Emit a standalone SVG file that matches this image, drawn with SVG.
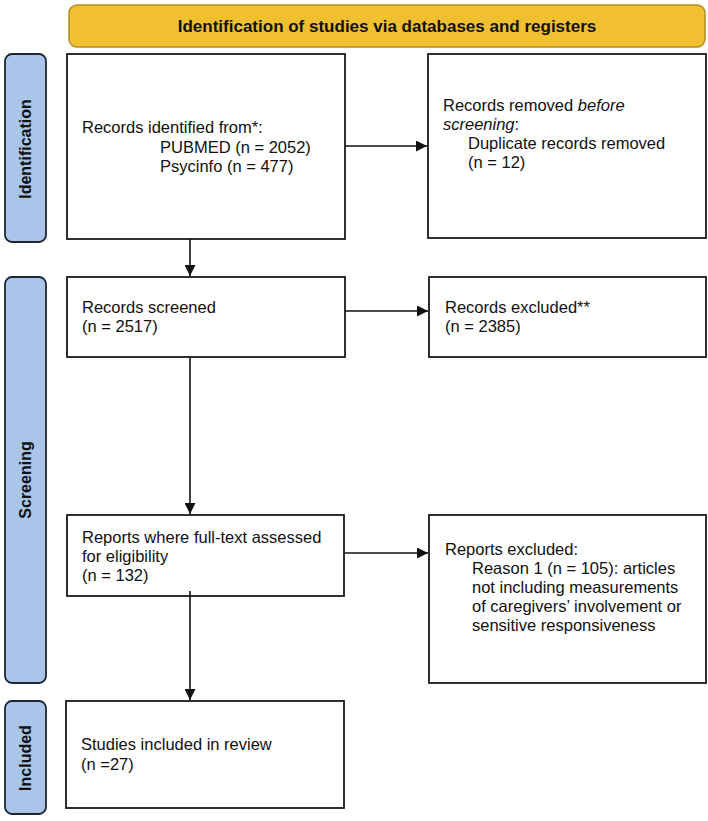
<svg xmlns="http://www.w3.org/2000/svg" width="708" height="821" viewBox="0 0 708 821">
<defs>
<style>
.box{fill:#fff;stroke:#1a1a1a;stroke-width:1.8}
.bar{fill:#a9c5e9;stroke:#1f2530;stroke-width:1.8}
.hdr{fill:#f0c030;stroke:#b38d22;stroke-width:1.5}
.t{font-family:"Liberation Sans",Arial,sans-serif;font-size:16.5px;fill:#111}
.lbl{font-family:"Liberation Sans",Arial,sans-serif;font-size:16px;font-weight:bold;fill:#111;text-anchor:middle}
.conn{stroke:#111;stroke-width:1.6;fill:none}
</style>
<marker id="ah" viewBox="0 0 10 10" refX="10" refY="5" markerWidth="11" markerHeight="11" markerUnits="userSpaceOnUse" orient="auto">
<path d="M0,0 L10,5 L0,10 z" fill="#111"/>
</marker>
</defs>
<rect width="708" height="821" fill="#fff"/>

<g id="header">
<rect class="hdr" x="69" y="5" width="636" height="42" rx="8"/>
<text class="lbl" x="387" y="32" style="font-size:17px">Identification of studies via databases and registers</text>
</g>

<g id="bar-identification">
<rect class="bar" x="5" y="54" width="41" height="188" rx="7"/>
<text class="lbl" transform="translate(31,149) rotate(-90)">Identification</text>
</g>
<g id="bar-screening">
<rect class="bar" x="5" y="277" width="41" height="406" rx="7"/>
<text class="lbl" transform="translate(31,480) rotate(-90)">Screening</text>
</g>
<g id="bar-included">
<rect class="bar" x="5" y="701" width="41" height="113" rx="7"/>
<text class="lbl" transform="translate(31,758) rotate(-90)">Included</text>
</g>

<g id="records-identified">
<rect class="box" x="67" y="54" width="278" height="185"/>
<text class="t" x="82" y="133">Records identified from*:</text>
<text class="t" x="160" y="153">PUBMED (n = 2052)</text>
<text class="t" x="160" y="172">Psycinfo (n = 477)</text>
</g>

<g id="records-removed">
<rect class="box" x="428" y="54" width="278" height="184"/>
<text class="t" x="443" y="111">Records removed <tspan font-style="italic">before</tspan></text>
<text class="t" x="443" y="130"><tspan font-style="italic">screening</tspan>:</text>
<text class="t" x="468" y="149">Duplicate records removed</text>
<text class="t" x="468" y="168">(n = 12)</text>
</g>

<g id="records-screened">
<rect class="box" x="67" y="277" width="278" height="80"/>
<text class="t" x="82" y="313">Records screened</text>
<text class="t" x="82" y="332">(n = 2517)</text>
</g>

<g id="records-excluded">
<rect class="box" x="429" y="277" width="277" height="80"/>
<text class="t" x="445" y="313">Records excluded**</text>
<text class="t" x="445" y="332">(n = 2385)</text>
</g>

<g id="full-text">
<rect class="box" x="67" y="515" width="277" height="81"/>
<text class="t" x="82" y="543">Reports where full-text assessed</text>
<text class="t" x="82" y="562">for eligibility</text>
<text class="t" x="82" y="581">(n = 132)</text>
</g>

<g id="reports-excluded">
<rect class="box" x="429" y="515" width="277" height="168"/>
<text class="t" x="445" y="555">Reports excluded:</text>
<text class="t" x="472" y="574">Reason 1 (n = 105): articles</text>
<text class="t" x="472" y="593">not including measurements</text>
<text class="t" x="472" y="612">of caregivers’ involvement or</text>
<text class="t" x="472" y="631">sensitive responsiveness</text>
</g>

<g id="studies-included">
<rect class="box" x="66" y="701" width="278" height="107"/>
<text class="t" x="81" y="750">Studies included in review</text>
<text class="t" x="81" y="770">(n =27)</text>
</g>

<g id="connectors">
<line class="conn" x1="345" y1="146" x2="427" y2="146" marker-end="url(#ah)"/>
<line class="conn" x1="190" y1="239" x2="190" y2="276" marker-end="url(#ah)"/>
<line class="conn" x1="345" y1="311" x2="428" y2="311" marker-end="url(#ah)"/>
<line class="conn" x1="190" y1="357" x2="190" y2="514" marker-end="url(#ah)"/>
<line class="conn" x1="344" y1="553" x2="428" y2="553" marker-end="url(#ah)"/>
<line class="conn" x1="190" y1="591" x2="190" y2="700" marker-end="url(#ah)"/>
</g>
</svg>
